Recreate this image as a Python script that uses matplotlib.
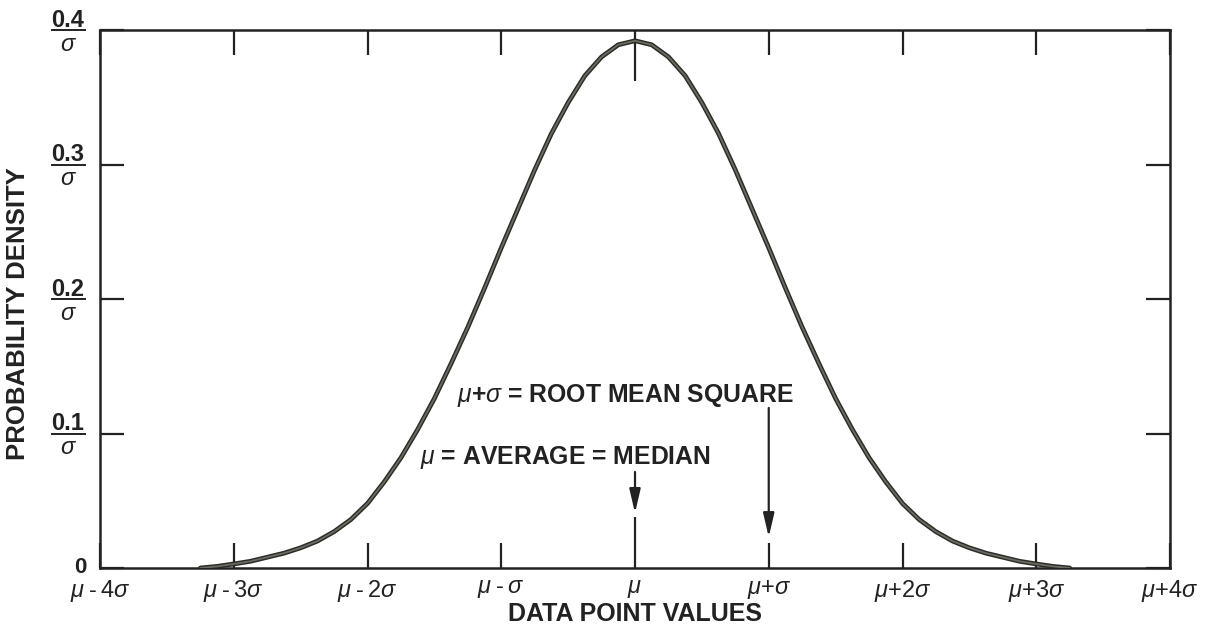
import matplotlib
matplotlib.use("Agg")
import matplotlib.pyplot as plt
import matplotlib.transforms as mtransforms

plt.rcParams['font.family'] = ['Liberation Sans', 'DejaVu Sans']
plt.rcParams['mathtext.fontset'] = 'custom'
plt.rcParams['mathtext.rm'] = 'Liberation Sans'
plt.rcParams['mathtext.it'] = 'Liberation Sans:italic'
plt.rcParams['mathtext.bf'] = 'Liberation Sans:bold'

# Density curve, in units of sigma from the mean
curve_x = [-3.25, -3.125, -3.0, -2.875, -2.75, -2.625, -2.5, -2.375, -2.25, -2.125,
           -2.0, -1.875, -1.75, -1.625, -1.5, -1.375, -1.25, -1.125, -1.0, -0.875,
           -0.75, -0.625, -0.5, -0.375, -0.25, -0.125, 0.0,
           0.125, 0.25, 0.375, 0.5, 0.625, 0.75, 0.875, 1.0, 1.125, 1.25,
           1.375, 1.5, 1.625, 1.75, 1.875, 2.0, 2.125, 2.25, 2.375, 2.5,
           2.625, 2.75, 2.875, 3.0, 3.125, 3.25]
curve_y = [0.000, 0.0012, 0.003, 0.005, 0.008, 0.011, 0.015, 0.020, 0.027, 0.036,
           0.048, 0.064, 0.082, 0.103, 0.126, 0.152, 0.179, 0.208, 0.238, 0.267,
           0.296, 0.323, 0.346, 0.366, 0.380, 0.389, 0.392,
           0.389, 0.380, 0.366, 0.346, 0.323, 0.296, 0.267, 0.238, 0.208, 0.179,
           0.152, 0.126, 0.103, 0.082, 0.064, 0.048, 0.036, 0.027, 0.020, 0.015,
           0.011, 0.008, 0.005, 0.003, 0.0012, 0.000]

x_ticks = [-4, -3, -2, -1, 0, 1, 2, 3, 4]
x_labels = ['$\\mu$\u2009-\u20094$\\sigma$', '$\\mu$\u2009-\u20093$\\sigma$',
            '$\\mu$\u2009-\u20092$\\sigma$', '$\\mu$\u2009-\u2009$\\sigma$',
            '$\\mu$', '$\\mu$+$\\sigma$', '$\\mu$+2$\\sigma$', '$\\mu$+3$\\sigma$',
            '$\\mu$+4$\\sigma$']
y_ticks = [0.0, 0.1, 0.2, 0.3, 0.4]
y_numerators = ['0', '0.1', '0.2', '0.3', '0.4']

mean_note = r'$\mu$ = AVERAGE = MEDIAN'
rms_note = r'$\mu$+$\sigma$ = ROOT MEAN SQUARE'
mean_x, rms_x = 0, 1

ink = '#222222'

fig = plt.figure(figsize=(12.12, 6.4), dpi=100)
ax = fig.add_axes([100 / 1212, 72 / 640, 1070 / 1212, 538 / 640])
ax.set_xlim(-4, 4)
ax.set_ylim(0, 0.4)

# curve: dark rim with a grey core
ax.plot(curve_x, curve_y, color='#2b2b28', lw=3.4, solid_capstyle='round',
        solid_joinstyle='round', zorder=3)
ax.plot(curve_x, curve_y, color='#6b6b62', lw=1.3, solid_capstyle='round',
        solid_joinstyle='round', zorder=4)

for s in ax.spines.values():
    s.set_linewidth(1.8)
    s.set_color(ink)

ax.set_xticks(x_ticks)
ax.set_xticklabels(x_labels, fontsize=17, color=ink)
ax.set_yticks(y_ticks)
ax.set_yticklabels([])
ax.tick_params(axis='x', direction='in', length=18, width=1.6, color=ink,
               top=True, bottom=True, pad=7)
ax.tick_params(axis='y', direction='in', length=17, width=1.6, color=ink,
               left=True, right=True)

# longer marks at the mean, top and bottom
mu_tick = ax.xaxis.get_major_ticks()[x_ticks.index(mean_x)]
mu_tick.tick1line.set_markersize(37)
mu_tick.tick2line.set_markersize(37)

# fraction-style y labels: value over sigma
blend = mtransforms.blended_transform_factory(fig.transFigure, ax.transData)
lx = 68 / 1212
for v, num in zip(y_ticks, y_numerators):
    if v == 0:
        ax.annotate(num, xy=(80 / 1212, v), xycoords=blend, xytext=(0, -7),
                    textcoords='offset points', ha='center', va='bottom',
                    fontsize=16, fontweight='bold', color=ink)
        continue
    ax.annotate(num, xy=(lx, v), xycoords=blend, xytext=(0, 2.5),
                textcoords='offset points', ha='center', va='baseline',
                fontsize=17, fontweight='bold', color=ink)
    ax.annotate(r'$\sigma$', xy=(lx, v), xycoords=blend, xytext=(0, -15),
                textcoords='offset points', ha='center', va='baseline',
                fontsize=17, color=ink)
    ax.plot([52 / 1212, 85 / 1212], [v, v], transform=blend, color=ink,
            lw=1.4, clip_on=False)

# notes with arrows
ax.text(-0.52, 0.0825, mean_note, ha='center', va='center', fontsize=17.8,
        fontweight='bold', color=ink)
ax.text(-0.07, 0.1286, rms_note, ha='center', va='center', fontsize=17.8,
        fontweight='bold', color=ink)
arrow = dict(arrowstyle='-|>,head_length=1.2,head_width=0.28', color=ink,
             lw=1.6, shrinkA=0, shrinkB=0, mutation_scale=12)
ax.annotate('', xy=(mean_x, 0.0409), xytext=(mean_x, 0.0714), arrowprops=arrow)
ax.annotate('', xy=(rms_x, 0.023), xytext=(rms_x, 0.119), arrowprops=arrow)

ax.set_xlabel('DATA POINT VALUES', fontsize=18, fontweight='bold', color=ink,
              labelpad=-1)
fig.text(18 / 1212, 1 - 314 / 640, 'PROBABILITY DENSITY', rotation=90,
         ha='center', va='center', fontsize=18.5, fontweight='bold', color=ink)

fig.savefig('out.png', dpi=100, facecolor='white')
